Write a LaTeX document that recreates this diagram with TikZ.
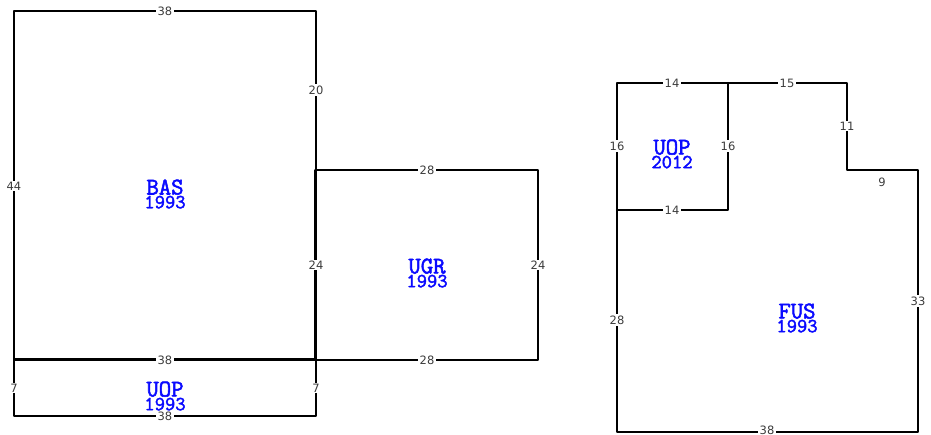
\documentclass[tikz,border=0pt]{standalone}
\usepackage{fontspec}
\setmainfont{DejaVu Sans}
\newfontfamily\slabbold[FakeBold=2.2]{Latin Modern Mono}
\definecolor{lblblue}{RGB}{10,10,255}
\definecolor{dimgray}{RGB}{60,60,60}
\tikzset{
  wall/.style={draw=black,line width=2.3pt,line cap=round,line join=round},
  dimlabel/.style={fill=white,text=dimgray,font=\fontsize{11.5}{12}\selectfont,inner sep=1.2pt},
  dimnofill/.style={dimlabel,fill=none},
  arealabel/.style={text=lblblue,font=\slabbold,align=center,inner sep=0pt}
}
\newcommand{\arealines}[2]{\fontsize{24}{16.5}\selectfont #1\\\fontsize{20}{16.5}\selectfont #2}
\begin{document}
\begin{tikzpicture}[x=1pt,y=-1pt]
\useasboundingbox (0,0) rectangle (931,435);
% BAS
\draw[wall] (14,11) -- (316,11) -- (316,360) -- (14,360) -- cycle;
% UGR
\draw[wall] (315.5,170) -- (538,170) -- (538,360) -- (315.5,360) -- cycle;
% UOP 1993
\draw[wall] (14,359.5) -- (14,416) -- (316,416) -- (316,359.5) -- cycle;
% FUS
\draw[wall] (617,83) -- (847,83) -- (847,170) -- (918,170) -- (918,432) -- (617,432) -- cycle;
% UOP 2012
\draw[wall] (728,83) -- (728,210) -- (617,210);
% dimensions
\node[dimlabel] (d1) at (165,11) {38};
\node[dimlabel] (d2) at (316,90) {20};
\node[dimlabel] (d3) at (14,186) {44};
\node[dimlabel] (d4) at (316,265) {24};
\node[dimlabel] (d5) at (427,170) {28};
\node[dimlabel] (d6) at (538,265) {24};
\node[dimlabel] (d7) at (427,360) {28};
\node[dimlabel] (d8) at (165,360) {38};
\node[dimlabel] (d9) at (14,388) {7};
\node[dimlabel] (d10) at (316,388) {7};
\node[dimlabel] (d11) at (165,416) {38};
\node[dimlabel] (d12) at (672,83) {14};
\node[dimlabel] (d13) at (787,83) {15};
\node[dimlabel] (d14) at (847,126) {11};
\node[dimlabel] (d15) at (617,146) {16};
\node[dimlabel] (d16) at (728,146) {16};
\node[dimlabel] (d17) at (672,210) {14};
\node[dimnofill] (d18) at (882,182) {9};
\node[dimlabel] (d19) at (617,320) {28};
\node[dimlabel] (d20) at (918,301) {33};
\node[dimlabel,inner ysep=0.5pt] (d21) at (767,430.5) {38};
% areas
\node[arealabel] (a1) at (165,194) {\arealines{BAS}{1993}};
\node[arealabel] (a2) at (427,273) {\arealines{UGR}{1993}};
\node[arealabel] (a3) at (165,396) {\arealines{UOP}{1993}};
\node[arealabel] (a4) at (672,154) {\arealines{UOP}{2012}};
\node[arealabel] (a5) at (797,318) {\arealines{FUS}{1993}};
\end{tikzpicture}
\end{document}
